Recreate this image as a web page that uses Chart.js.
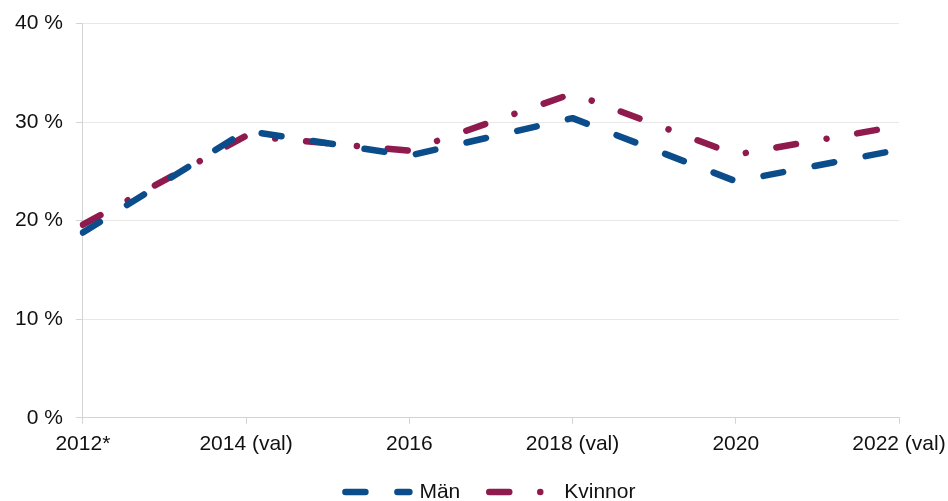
<!DOCTYPE html>
<html>
<head>
<meta charset="utf-8">
<script src="https://cdn.jsdelivr.net/npm/chart.js@4"></script>
<style>
  html, body { margin: 0; padding: 0; background: #fff; overflow: hidden; }
</style>
</head>
<body>
<canvas id="chart" width="948" height="501"></canvas>
<script>
// data
const years = ['2012*', '2014 (val)', '2016', '2018 (val)', '2020', '2022 (val)'];
const men = [18.8, 29.1, 26.6, 30.4, 24.0, 27.2];
const women = [19.6, 28.6, 27.1, 32.9, 26.7, 29.6];
const yTicks = [0, 10, 20, 30, 40];

const blue = '#0b4d8b';
const wine = '#8e1a4e';
const font = { family: "'Liberation Sans', Arial, sans-serif", size: 21 };

// legend drawn by hand so the dash patterns show like the original
const bottomLegend = {
    id: 'bottomLegend',
    afterDraw(chart) {
        const ctx = chart.ctx;
        const y = 492;
        const samples = [70, 60];
        const textGap = [7, 18];
        const itemGap = 26;
        ctx.save();
        ctx.font = font.size + 'px ' + font.family;
        ctx.textBaseline = 'middle';
        const items = chart.data.datasets.map((ds, i) => ({
            ds, len: samples[i], gap: textGap[i], tw: ctx.measureText(ds.label).width
        }));
        const total = items.reduce((s, it) => s + it.len + it.gap + it.tw, 0) + itemGap * (items.length - 1);
        let x = (chart.chartArea.left + chart.chartArea.right) / 2 - total / 2 - 2;
        items.forEach(it => {
            ctx.strokeStyle = it.ds.borderColor;
            ctx.lineWidth = it.ds.borderWidth;
            ctx.lineCap = 'round';
            ctx.setLineDash(it.ds.borderDash);
            ctx.beginPath();
            ctx.moveTo(x + 3, y);
            ctx.lineTo(x + it.len - 3, y);
            ctx.stroke();
            ctx.setLineDash([]);
            ctx.fillStyle = '#111';
            ctx.fillText(it.ds.label, x + it.len + it.gap, y);
            x += it.len + it.gap + it.tw + itemGap;
        });
        ctx.restore();
    }
};

new Chart(document.getElementById('chart'), {
    type: 'line',
    data: {
        labels: years,
        datasets: [{
            label: 'Män',
            data: men,
            borderColor: blue,
            backgroundColor: blue,
            borderWidth: 6.5,
            borderDash: [20, 32],
            borderCapStyle: 'round',
            borderJoinStyle: 'round',
            pointRadius: 0,
            tension: 0
        }, {
            label: 'Kvinnor',
            data: women,
            borderColor: wine,
            backgroundColor: wine,
            borderWidth: 6.5,
            borderDash: [20, 31, 0.01, 31],
            borderCapStyle: 'round',
            borderJoinStyle: 'round',
            pointRadius: 0,
            tension: 0
        }]
    },
    options: {
        responsive: false,
        animation: false,
        layout: { padding: { top: 23.5, left: 2, right: 0, bottom: 36 } },
        scales: {
            x: {
                // let the last label run closer to the edge, as in the original
                afterFit: s => { s.paddingRight = 49; },
                grid: { drawOnChartArea: false, color: '#d4d4d4', tickLength: 6 },
                border: { color: '#d4d4d4' },
                ticks: { color: '#111', font: font, padding: 8, maxRotation: 0, autoSkip: false }
            },
            y: {
                min: 0,
                max: 40,
                afterFit: s => { s.paddingTop = 0; },
                afterBuildTicks: axis => { axis.ticks = yTicks.map(v => ({ value: v })); },
                grid: { color: '#e8e8e8', tickLength: 7, tickColor: '#d4d4d4' },
                border: { color: '#d4d4d4' },
                ticks: { color: '#111', font: font, padding: 13, callback: v => v + ' %' }
            }
        },
        plugins: {
            legend: { display: false },
            tooltip: { enabled: false }
        }
    },
    plugins: [bottomLegend]
});
</script>
</body>
</html>
